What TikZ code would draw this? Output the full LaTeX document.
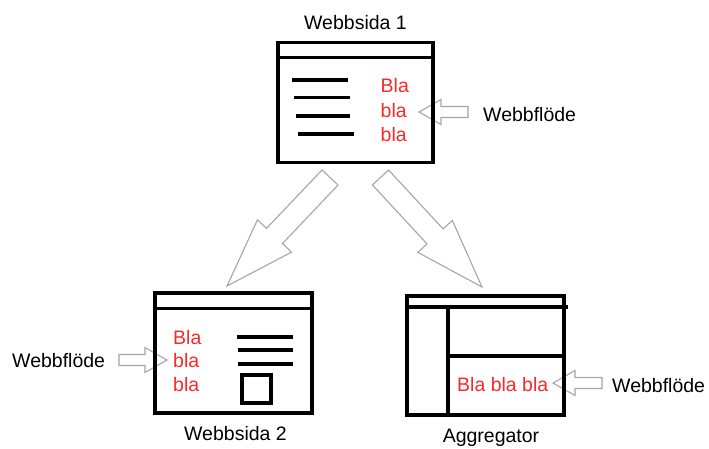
\documentclass[tikz,border=0pt]{standalone}
\usepackage{fontspec}
\setmainfont{Liberation Sans}
\usetikzlibrary{calc}

\definecolor{blared}{RGB}{250,40,40}

% block arrow from tail (#1) to tip (#2): shaft half width, head half width, head length
\newcommand{\flowarrow}[5]{%
  \draw[feed] ($(#1)!#3!90:(#2)$) -- ($(#2)!#5!(#1)!#3!90:(#2)$) -- ($(#2)!#5!(#1)!#4!90:(#2)$)
    -- (#2) -- ($(#2)!#5!(#1)!#4!-90:(#2)$) -- ($(#2)!#5!(#1)!#3!-90:(#2)$) -- ($(#1)!#3!-90:(#2)$) -- cycle;}

\tikzset{
  window/.style={draw, line width=3.2pt, rectangle, inner sep=0pt},
  feed/.style={draw=gray!70, fill=white, line width=1.1pt, line join=miter},
  txt/.style={font=\fontsize{19.5}{23}\selectfont, inner sep=0pt},
  bla/.style={txt, blared, anchor=base west},
  label/.style={txt, anchor=base},
  bar/.style={line width=3.2pt}
}

\begin{document}
\begin{tikzpicture}[x=1pt, y=-1pt]
    \useasboundingbox (0,0) rectangle (709,448);

    % arrows between pages
    \coordinate (t1) at (330,177.5);
    \coordinate (h1) at (227,286);
    \coordinate (t2) at (380.5,177.5);
    \coordinate (h2) at (482,287);
    \flowarrow{t1}{h1}{11pt}{23.5pt}{69pt}
    \flowarrow{t2}{h2}{11pt}{23.5pt}{69pt}

    % feed arrows
    \coordinate (f1) at (468,112);
    \coordinate (g1) at (419,112);
    \coordinate (f2) at (119,360);
    \coordinate (g2) at (167,360);
    \coordinate (f3) at (602,383);
    \coordinate (g3) at (553,383);
    \flowarrow{f1}{g1}{5.5pt}{12.5pt}{22pt}
    \flowarrow{f2}{g2}{5.5pt}{12.5pt}{22pt}
    \flowarrow{f3}{g3}{5.5pt}{12.5pt}{22pt}

    % Webbsida 1
    \node[window, minimum width=155pt, minimum height=120pt] (w1) at (355.5,102.5) {};
    \draw[bar] ([yshift=-16.5pt]w1.north west) -- ([yshift=-16.5pt]w1.north east);
    \draw[bar] (292,80) -- (348,80);
    \draw[bar] (294,97.5) -- (350,97.5);
    \draw[bar] (296,116) -- (350,116);
    \draw[bar] (298,134) -- (354,134);
    \node[bla] (b11) at (380.5,92.5) {Bla};
    \node[bla] (b12) at (380.5,117) {bla};
    \node[bla] (b13) at (380.5,141) {bla};
    \node[label] (l1) at (355.5,29.5) {Webbsida 1};
    \node[txt, anchor=base west] (r1) at (483,121.5) {Webbflöde};

    % Webbsida 2
    \node[window, minimum width=157pt, minimum height=120pt] (w2) at (233.5,353) {};
    \draw[bar] ([yshift=-17pt]w2.north west) -- ([yshift=-17pt]w2.north east);
    \draw[bar] (237,337) -- (293,337);
    \draw[bar] (238,350) -- (293,350);
    \draw[bar] (238,364) -- (293,364);
    \draw[bar] (242,375) rectangle (271,403);
    \node[bla] (b21) at (173,344) {Bla};
    \node[bla] (b22) at (173,367.5) {bla};
    \node[bla] (b23) at (173,391) {bla};
    \node[label] (l2) at (235.5,440.5) {Webbsida 2};
    \node[txt, anchor=base west] (r2) at (12,367.5) {Webbflöde};

    % Aggregator
    \node[window, minimum width=157pt, minimum height=119pt] (w3) at (485.5,355.5) {};
    \draw[bar] ([yshift=-12.5pt]w3.north west) -- ([yshift=-12.5pt,xshift=2pt]w3.north east);
    \draw[bar] (448,308.5) -- (448,415);
    \draw[bar] (448,356) -- (564,356);
    \node[bla] (b31) at (457,391) {Bla bla bla};
    \node[label] (l3) at (491,442.5) {Aggregator};
    \node[txt, anchor=base west] (r3) at (612,392.5) {Webbflöde};
\end{tikzpicture}
\end{document}
